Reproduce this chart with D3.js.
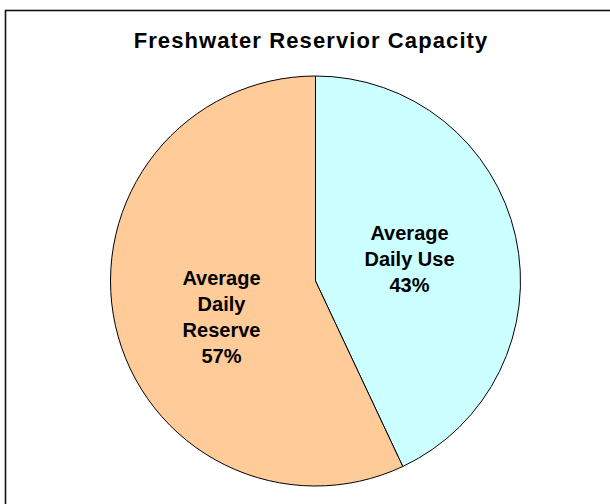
<!DOCTYPE html>
<html>
<head>
<meta charset="utf-8">
<script src="https://cdn.jsdelivr.net/npm/d3@7"></script>
<style>
  body { margin: 0; background: #fff; }
  svg { display: block; }
  text { font-family: "Liberation Sans", Arial, sans-serif; font-weight: bold; fill: #000; }
</style>
</head>
<body>
<div id="chart"></div>
<script>
var categories = ["Average Daily Use", "Average Daily Reserve"]
var labelLines = [["Average", "Daily Use"], ["Average", "Daily", "Reserve"]]
var values = [43, 57]
var colors = ["#CCFFFF", "#FFCC99"]

var width = 610, height = 504
var cx = 315.5, cy = 281, r = 205

var svg = d3.select("#chart").append("svg")
  .attr("width", width)
  .attr("height", height)

// chart frame (runs off the right and bottom edge like the original)
svg.append("rect")
  .attr("x", 5.5).attr("y", 10.5)
  .attr("width", 700).attr("height", 600)
  .attr("fill", "#fff")
  .attr("stroke", "#111")
  .attr("stroke-width", 1.6)

svg.append("text")
  .attr("x", 311).attr("y", 48)
  .attr("text-anchor", "middle")
  .style("font-size", "22px")
  .style("letter-spacing", "1.1px")
  .text("Freshwater Reservior Capacity")

var pie = d3.pie().sort(null).value(function(d) { return d })
var arcs = pie(values)
var total = d3.sum(values)

var arc = d3.arc().innerRadius(0).outerRadius(r)
var labelArc = d3.arc().innerRadius(r * 0.47).outerRadius(r * 0.47)

var g = svg.append("g").attr("transform", "translate(" + cx + "," + cy + ")")

g.selectAll("path")
  .data(arcs)
  .enter().append("path")
  .attr("d", arc)
  .attr("fill", function(d, i) { return colors[i] })
  .attr("stroke", "#000")
  .attr("stroke-width", 1)

// excel drops the taller label block a bit lower than the centroid
var lineH = 26
g.selectAll("text.lbl")
  .data(arcs)
  .enter().append("text")
  .attr("class", "lbl")
  .attr("text-anchor", "middle")
  .style("font-size", "20px")
  .each(function(d, i) {
    var c = labelArc.centroid(d)
    var lines = labelLines[i].concat([Math.round(d.value / total * 100) + "%"])
    var cyl = c[1] + (lines.length - 3) * 16
    var top = cyl - (lines.length * lineH) / 2 + lineH * 0.72
    var t = d3.select(this)
    lines.forEach(function(s, k) {
      t.append("tspan").attr("x", c[0]).attr("y", top + k * lineH).text(s)
    })
  })
</script>
</body>
</html>
